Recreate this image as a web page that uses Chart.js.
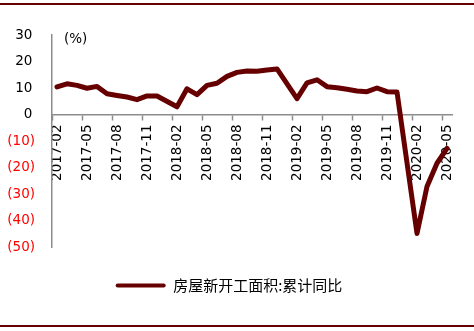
<!DOCTYPE html>
<html>
<head>
<meta charset="utf-8">
<script src="https://cdn.jsdelivr.net/npm/chart.js@4.4.1/dist/chart.umd.min.js"></script>
<style>
  html, body { margin: 0; padding: 0; background: #fff; }
  #wrap { position: relative; width: 474px; height: 331px; overflow: hidden; }
  .rule { position: absolute; left: 0; width: 474px; background: #660000; }
  #ruleTop { top: 3px; height: 2px; }
  #ruleBottom { top: 325px; height: 2px; }
  canvas { position: absolute; left: 0; top: 0; }
</style>
</head>
<body>
<div id="wrap">
  <canvas id="chart" width="474" height="331"></canvas>
  <div class="rule" id="ruleTop"></div>
  <div class="rule" id="ruleBottom"></div>
</div>
<script>
// Monthly categories, Feb 2017 – May 2020 (January has no cumulative figure)
const months = [
  '2017-02','2017-03','2017-04','2017-05','2017-06','2017-07','2017-08','2017-09','2017-10','2017-11','2017-12',
  '2018-01','2018-02','2018-03','2018-04','2018-05','2018-06','2018-07','2018-08','2018-09','2018-10','2018-11','2018-12',
  '2019-01','2019-02','2019-03','2019-04','2019-05','2019-06','2019-07','2019-08','2019-09','2019-10','2019-11','2019-12',
  '2020-01','2020-02','2020-03','2020-04','2020-05'
];

// 房屋新开工面积:累计同比 (%)
const startsYoY = [
  10.4, 11.6, 11.0, 9.9, 10.6, 7.8, 7.2, 6.6, 5.6, 7.0, 7.0,
  null, 2.9, 9.7, 7.5, 11.0, 11.8, 14.4, 15.9, 16.4, 16.3, 16.8, 17.2,
  null, 6.0, 11.9, 13.1, 10.5, 10.1, 9.5, 8.9, 8.6, 10.0, 8.6, 8.5,
  null, -44.9, -27.2, -18.4, -12.8
];

const seriesName = '房屋新开工面积:累计同比';
const unitLabel = '(%)';
const yTicks = { min: -50, max: 30, step: 10 };

const lineColor = '#660000';
const axisColor = '#8c8c8c';
const tickFont = { family: 'DejaVu Sans', size: 13.5 };

// unit caption in the top-left corner of the plot
const unitTextPlugin = {
  id: 'unitText',
  afterDraw(chart) {
    const { ctx, chartArea } = chart;
    ctx.save();
    ctx.font = '13.5px "DejaVu Sans"';
    ctx.fillStyle = '#000';
    ctx.textBaseline = 'middle';
    ctx.textAlign = 'left';
    ctx.fillText(unitLabel, chartArea.left + 12, chartArea.top + 4);
    ctx.restore();
  }
};

new Chart(document.getElementById('chart'), {
  type: 'line',
  data: {
    labels: months,
    datasets: [{
      label: seriesName,
      data: startsYoY,
      borderColor: lineColor,
      backgroundColor: lineColor,
      borderWidth: 5,
      borderJoinStyle: 'round',
      borderCapStyle: 'round',
      pointRadius: 0,
      pointHoverRadius: 0,
      tension: 0,
      spanGaps: true
    }]
  },
  options: {
    responsive: false,
    animation: false,
    events: [],
    layout: { padding: { top: 35, right: 22, bottom: 28, left: 6 } },
    plugins: {
      tooltip: { enabled: false },
      legend: {
        position: 'bottom',
        labels: {
          boxWidth: 50,
          boxHeight: 4,
          padding: 31,
          useBorderRadius: true,
          borderRadius: 2,
          color: '#000',
          font: { family: '"Noto Sans CJK SC"', size: 15 },
          generateLabels: chart =>
            Chart.defaults.plugins.legend.labels.generateLabels(chart)
              .map(item => Object.assign(item, { lineWidth: 0, fillStyle: lineColor }))
        }
      }
    },
    scales: {
      x: {
        type: 'category',
        position: { y: 0 },
        offset: true,
        grid: {
          offset: true,
          drawOnChartArea: false,
          drawTicks: true,
          tickLength: 5,
          tickWidth: 1.5,
          tickColor: ctx => (ctx.index % 3 === 0 && ctx.index < months.length) ? axisColor : 'rgba(0,0,0,0)'
        },
        border: { display: true, color: axisColor, width: 1.5 },
        ticks: {
          autoSkip: false,
          minRotation: 90,
          maxRotation: 90,
          padding: 5,
          color: '#000',
          font: tickFont,
          callback: (value, index) => index % 3 === 0 ? months[index] : ''
        }
      },
      y: {
        position: 'left',
        min: yTicks.min,
        max: yTicks.max,
        afterFit: scale => { scale.width = 46; },
        grid: { display: false, drawTicks: false },
        border: { display: true, color: axisColor, width: 1.5 },
        ticks: {
          stepSize: yTicks.step,
          padding: 17,
          font: tickFont,
          color: ctx => ctx.tick.value < 0 ? '#ff0000' : '#000',
          callback: v => v < 0 ? '(' + (-v) + ')' : v + '\u2009'
        }
      }
    }
  },
  plugins: [unitTextPlugin]
});
</script>
</body>
</html>
